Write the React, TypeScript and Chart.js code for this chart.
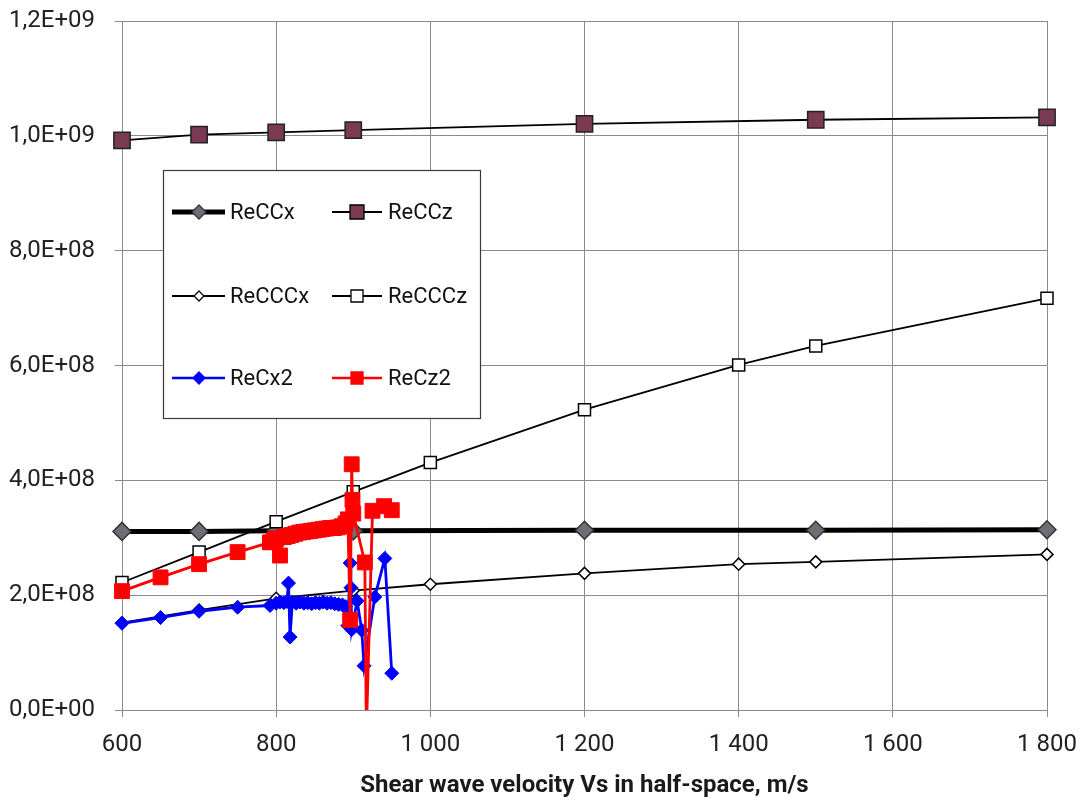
import React, { useEffect, useRef } from "react";
import { Chart, registerables } from "chart.js";

Chart.register(...registerables);

// ---- Data ----
const xReCCx = [600, 700, 800, 900, 1200, 1500, 1800];
const yReCCx = [3.11e8, 3.11e8, 3.12e8, 3.12e8, 3.13e8, 3.13e8, 3.14e8];

const xReCCz = [600, 700, 800, 900, 1200, 1500, 1800];
const yReCCz = [0.992e9, 1.002e9, 1.006e9, 1.01e9, 1.021e9, 1.028e9, 1.032e9];

const xReCCCx = [600, 700, 800, 900, 1000, 1200, 1400, 1500, 1800];
const yReCCCx = [1.52e8, 1.74e8, 1.945e8, 2.08e8, 2.19e8, 2.38e8, 2.54e8, 2.58e8, 2.71e8];

const xReCCCz = [600, 700, 800, 900, 1000, 1200, 1400, 1500, 1800];
const yReCCCz = [2.22e8, 2.75e8, 3.28e8, 3.8e8, 4.31e8, 5.23e8, 6.01e8, 6.34e8, 7.17e8];

const xReCx2 = [
  600, 650, 700, 750, 792, 800, 805, 810, 814, 816, 818, 821, 826, 831, 836, 841,
  846, 851, 856, 861, 866, 871, 876, 881, 886, 890, 893, 896, 897, 898, 905, 911,
  914, 928, 941, 950,
];
const yReCx2 = [
  1.51e8, 1.61e8, 1.72e8, 1.79e8, 1.82e8, 1.86e8, 1.88e8, 1.87e8, 1.89e8, 2.21e8,
  1.27e8, 1.88e8, 1.86e8, 1.88e8, 1.86e8, 1.87e8, 1.85e8, 1.87e8, 1.86e8, 1.88e8,
  1.86e8, 1.87e8, 1.85e8, 1.84e8, 1.83e8, 1.8e8, 1.47e8, 2.56e8, 2.13e8, 1.4e8,
  1.9e8, 1.39e8, 0.77e8, 1.97e8, 2.64e8, 0.64e8,
];

const xReCz2 = [
  600, 650, 700, 750, 792, 797, 800, 805, 810, 815, 820, 825, 830, 835, 840, 845,
  850, 855, 860, 865, 870, 875, 880, 885, 890, 893, 896, 898, 899, 900, 915, 917,
  925, 940, 950,
];
const yReCz2 = [
  2.07e8, 2.31e8, 2.54e8, 2.75e8, 2.92e8, 2.96e8, 2.99e8, 2.69e8, 3.01e8, 3.03e8,
  3.05e8, 3.07e8, 3.09e8, 3.1e8, 3.11e8, 3.12e8, 3.13e8, 3.14e8, 3.15e8, 3.16e8,
  3.17e8, 3.17e8, 3.18e8, 3.2e8, 3.25e8, 3.32e8, 1.57e8, 4.28e8, 3.66e8, 3.42e8,
  2.57e8, -0.4e8, 3.47e8, 3.55e8, 3.48e8,
];

const xTitle = "Shear wave velocity Vs in half-space, m/s";

const pts = (xs: number[], ys: number[]) => xs.map((x, i) => ({ x, y: ys[i] }));

const fmtY = (v: number) => {
  if (Math.abs(v) < 1) return "0,0E+00";
  const e = Math.floor(Math.log10(v) + 1e-9);
  const m = v / Math.pow(10, e);
  return m.toFixed(1).replace(".", ",") + "E+" + String(e).padStart(2, "0");
};
const fmtX = (v: number) => {
  const n = Math.round(v);
  if (n >= 1000) return Math.floor(n / 1000) + " " + String(n % 1000).padStart(3, "0");
  return String(n);
};

type LegendItem = {
  label: string;
  lineColor: string;
  lineWidth: number;
  shape: "diamond" | "square";
  fill: string;
  stroke: string;
  size: number;
};

const legendItems: LegendItem[] = [
  { label: "ReCCx", lineColor: "#000", lineWidth: 5, shape: "diamond", fill: "#6e6e78", stroke: "#333", size: 7 },
  { label: "ReCCz", lineColor: "#000", lineWidth: 2, shape: "square", fill: "#7a3b52", stroke: "#000", size: 7 },
  { label: "ReCCCx", lineColor: "#000", lineWidth: 2, shape: "diamond", fill: "#fff", stroke: "#000", size: 5 },
  { label: "ReCCCz", lineColor: "#000", lineWidth: 2, shape: "square", fill: "#fff", stroke: "#000", size: 6 },
  { label: "ReCx2", lineColor: "#0000ff", lineWidth: 2.5, shape: "diamond", fill: "#0000ff", stroke: "#0000ff", size: 6 },
  { label: "ReCz2", lineColor: "#ff0000", lineWidth: 2.5, shape: "square", fill: "#ff0000", stroke: "#ff0000", size: 6 },
];

const legendPlugin = {
  id: "boxLegend",
  afterDatasetsDraw(chart: any) {
    const ctx = chart.ctx as CanvasRenderingContext2D;
    const bx = 155, by = 162, bw = 317, bh = 248;
    ctx.save();
    ctx.fillStyle = "#fff";
    ctx.fillRect(bx, by, bw, bh);
    ctx.strokeStyle = "#3a3a3a";
    ctx.lineWidth = 1.2;
    ctx.strokeRect(bx + 0.5, by + 0.5, bw, bh);
    const rows = [204, 288, 370];
    const cols = [
      { l0: 164, l1: 217, m: 191, t: 222 },
      { l0: 324, l1: 374, m: 349, t: 380 },
    ];
    legendItems.forEach((it, i) => {
      const r = rows[Math.floor(i / 2)];
      const c = cols[i % 2];
      ctx.strokeStyle = it.lineColor;
      ctx.lineWidth = it.lineWidth;
      ctx.beginPath();
      ctx.moveTo(c.l0, r);
      ctx.lineTo(c.l1, r);
      ctx.stroke();
      ctx.fillStyle = it.fill;
      ctx.strokeStyle = it.stroke;
      ctx.lineWidth = 1.3;
      ctx.beginPath();
      const s = it.size;
      if (it.shape === "diamond") {
        ctx.moveTo(c.m, r - s);
        ctx.lineTo(c.m + s, r);
        ctx.lineTo(c.m, r + s);
        ctx.lineTo(c.m - s, r);
        ctx.closePath();
      } else {
        ctx.rect(c.m - s, r - s, 2 * s, 2 * s);
      }
      ctx.fill();
      ctx.stroke();
      ctx.fillStyle = "#111";
      ctx.font = "22px Roboto";
      ctx.textBaseline = "middle";
      ctx.textAlign = "left";
      ctx.fillText(it.label, c.t, r + 1);
    });
    ctx.restore();
  },
};

const openClip = { left: 20, top: 20, right: 20, bottom: 20 };

export default function App() {
  const ref = useRef<HTMLCanvasElement | null>(null);
  useEffect(() => {
    if (!ref.current) return;
    const grid = "#8a8a8a";
    const chart = new Chart(ref.current, {
      type: "line",
      data: {
        datasets: [
          {
            label: "ReCCx",
            data: pts(xReCCx, yReCCx),
            borderColor: "#000",
            borderWidth: 5,
            pointStyle: "rectRot",
            pointRadius: 9,
            pointBackgroundColor: "#6e6e78",
            pointBorderColor: "#333",
            pointBorderWidth: 1.5,
            clip: openClip,
            order: 5,
          },
          {
            label: "ReCCz",
            data: pts(xReCCz, yReCCz),
            borderColor: "#000",
            borderWidth: 1.8,
            pointStyle: "rect",
            pointRadius: 11.5,
            pointBackgroundColor: "#7a3b52",
            pointBorderColor: "#222",
            pointBorderWidth: 1.5,
            clip: openClip,
            order: 4,
          },
          {
            label: "ReCCCx",
            data: pts(xReCCCx, yReCCCx),
            borderColor: "#000",
            borderWidth: 1.8,
            pointStyle: "rectRot",
            pointRadius: 6,
            pointBackgroundColor: "#fff",
            pointBorderColor: "#000",
            pointBorderWidth: 1.5,
            clip: openClip,
            order: 3,
          },
          {
            label: "ReCCCz",
            data: pts(xReCCCz, yReCCCz),
            borderColor: "#000",
            borderWidth: 1.8,
            pointStyle: "rect",
            pointRadius: 8.5,
            pointBackgroundColor: "#fff",
            pointBorderColor: "#000",
            pointBorderWidth: 1.5,
            clip: openClip,
            order: 2,
          },
          {
            label: "ReCx2",
            data: pts(xReCx2, yReCx2),
            borderColor: "#0000ff",
            borderWidth: 2.8,
            pointStyle: "rectRot",
            pointRadius: 7,
            pointBackgroundColor: "#0000ff",
            pointBorderColor: "#0000ff",
            pointBorderWidth: 1,
            clip: openClip,
            order: 1,
          },
          {
            label: "ReCz2",
            data: pts(xReCz2, yReCz2),
            borderColor: "#ff0000",
            borderWidth: 2.8,
            pointStyle: "rect",
            pointRadius: 10.5,
            pointBackgroundColor: "#ff0000",
            pointBorderColor: "#ff0000",
            pointBorderWidth: 1,
            clip: { left: 20, top: 20, right: 20, bottom: 0 },
            order: 0,
          },
        ],
      },
      options: {
        animation: false,
        responsive: true,
        maintainAspectRatio: false,
        layout: { padding: { top: 11, right: 35, left: 0, bottom: 0 } },
        plugins: { legend: { display: false }, tooltip: { enabled: false } },
        elements: { line: { tension: 0 } },
        scales: {
          x: {
            type: "linear",
            min: 600,
            max: 1800,
            ticks: {
              stepSize: 200,
              callback: (v: any) => fmtX(Number(v)),
              font: { family: "Roboto", size: 24 },
              color: "#222",
              padding: 14,
              maxRotation: 0,
            },
            grid: { color: grid, lineWidth: 1, tickLength: 7 },
            border: { color: grid, width: 1 },
            title: {
              display: true,
              text: xTitle,
              font: { family: "Roboto", size: 24, weight: "bold" },
              color: "#1a1a1a",
              padding: { top: 6, bottom: 0 },
            },
            afterFit: (s: any) => {
              s.height = 90;
              s.paddingLeft = 0;
              s.paddingRight = 0;
            },
          },
          y: {
            type: "linear",
            min: 0,
            max: 1.2e9,
            ticks: {
              stepSize: 2e8,
              callback: (v: any) => fmtY(Number(v)),
              font: { family: "Roboto", size: 24 },
              color: "#222",
              padding: 20,
            },
            grid: { color: grid, lineWidth: 1, tickLength: 7 },
            border: { color: grid, width: 1 },
            afterFit: (s: any) => {
              s.width = 114;
              s.paddingTop = 0;
              s.paddingBottom = 0;
            },
          },
        },
      },
      plugins: [legendPlugin],
    } as any);
    return () => chart.destroy();
  }, []);
  return (
    <div style={{ position: "absolute", left: 8, top: 8, width: 1074, height: 792 }}>
      <canvas ref={ref} />
    </div>
  );
}
